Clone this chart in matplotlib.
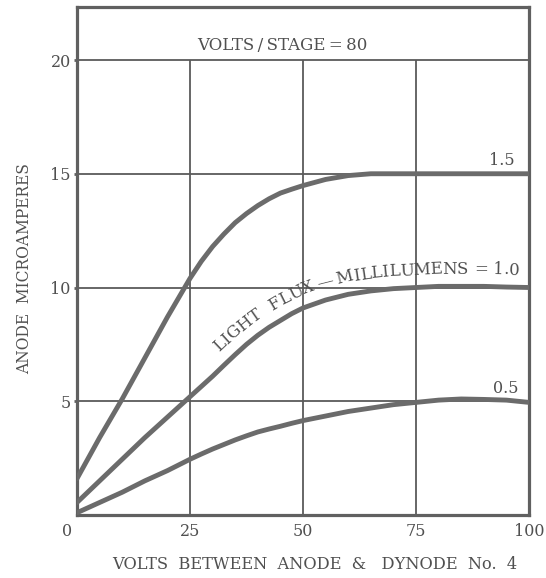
import numpy as np
import matplotlib
matplotlib.use("Agg")
import matplotlib.pyplot as plt
from matplotlib.font_manager import FontProperties
from matplotlib.textpath import text_to_path
from matplotlib.transforms import IdentityTransform, ScaledTranslation

# ---- data -------------------------------------------------------------
volts = [0, 5, 10, 15, 20, 25, 27.5, 30, 32.5, 35, 37.5, 40, 42.5, 45,
         47.5, 50, 55, 60, 65, 70, 75, 80, 85, 90, 95, 100]

current_flux_15 = [1.6, 3.4, 5.1, 6.9, 8.7, 10.4, 11.15, 11.8, 12.35, 12.85,
                   13.25, 13.6, 13.9, 14.15, 14.32, 14.48, 14.75, 14.92,
                   15.0, 15.0, 15.0, 15.0, 15.0, 15.0, 15.0, 15.0]
current_flux_10 = [0.55, 1.5, 2.45, 3.4, 4.3, 5.2, 5.65, 6.1, 6.58, 7.05,
                   7.5, 7.9, 8.25, 8.55, 8.85, 9.1, 9.45, 9.7, 9.85, 9.95,
                   10.0, 10.05, 10.05, 10.05, 10.02, 10.0]
current_flux_05 = [0.1, 0.55, 1.0, 1.5, 1.95, 2.45, 2.68, 2.9, 3.1, 3.3,
                   3.48, 3.65, 3.78, 3.9, 4.03, 4.15, 4.35, 4.55, 4.7, 4.85,
                   4.95, 5.05, 5.1, 5.08, 5.05, 4.95]

x_ticks = [0, 25, 50, 75, 100]
y_ticks = [5, 10, 15, 20]

title_text = "VOLTS\u2009/\u2009STAGE\u2009=\u200980"
flux_label = "LIGHT  FLUX\u2009\u2014\u2009MILLILUMENS = 1.0"
label_15 = "1.5"
label_05 = "0.5"
x_label = "VOLTS  BETWEEN  ANODE  &   DYNODE  No.  4"
y_label = "ANODE  MICROAMPERES"

# ---- style ------------------------------------------------------------
INK = "#505050"
CURVE = "#6b6b6b"
GRID = "#5a5a5a"
SERIF = ["DejaVu Serif"]
plt.rcParams["font.family"] = SERIF
plt.rcParams["text.color"] = INK

DPI = 100
fig = plt.figure(figsize=(5.46, 5.78), dpi=DPI, facecolor="white")
ax = fig.add_axes([77 / 546, 63 / 578, 452 / 546, 508 / 578])
ax.set_xlim(0, 100)
ax.set_ylim(0, 22.33)
ax.set_facecolor("white")

for sp in ax.spines.values():
    sp.set_color("#606060")
    sp.set_linewidth(2.3)

# grid box: vertical lines stop at the 20 line, the band above holds the title
ax.vlines([25, 50, 75], 0, 20, color=GRID, lw=1.3, zorder=1)
ax.hlines([5, 10, 15, 20], 0, 100, color=GRID, lw=1.3, zorder=1)

for ys in (current_flux_15, current_flux_10, current_flux_05):
    ax.plot(volts, ys, color=CURVE, lw=3.5, solid_capstyle="round",
            solid_joinstyle="round", zorder=3)

ax.set_xticks(x_ticks)
ax.set_xticklabels([str(v) for v in x_ticks])
ax.set_yticks(y_ticks)
ax.set_yticklabels([str(v) for v in y_ticks])
ax.tick_params(axis="x", length=0, pad=6, labelsize=11.5, labelcolor=INK)
ax.tick_params(axis="y", length=2.5, width=2, color="#606060", pad=2,
               labelsize=11.5, labelcolor=INK)
zero_lbl = ax.get_xticklabels()[0]
zero_lbl.set_transform(zero_lbl.get_transform()
                       + ScaledTranslation(-7 / 72, 0, fig.dpi_scale_trans))

ax.set_xlabel(x_label, fontsize=11.7, color=INK)
ax.xaxis.set_label_coords(0.525, -0.08)
ax.set_ylabel(y_label, fontsize=11.2, color=INK)
ax.yaxis.set_label_coords(-0.097, 0.485)

ax.text(45.5, 20.62, title_text, ha="center", va="center", fontsize=12,
        color=INK)
ax.text(94.0, 15.6, label_15, ha="center", va="center", fontsize=11.5,
        color=INK)
ax.text(94.9, 5.58, label_05, ha="center", va="center", fontsize=11.5,
        color=INK)

# ---- label that follows the 1.0 curve ------------------------------------
fig.canvas.draw()
pts = ax.transData.transform(np.column_stack([volts, current_flux_10]))
dx = np.gradient(pts[:, 0])
dy = np.gradient(pts[:, 1])
norm = np.hypot(dx, dy)
nx, ny = -dy / norm, dx / norm
offset_px = 12.5
path = pts + offset_px * np.column_stack([nx, ny])
seg = np.hypot(np.diff(path[:, 0]), np.diff(path[:, 1]))
arc = np.concatenate([[0.0], np.cumsum(seg)])

fp = FontProperties(family=SERIF, size=12)
px_per_pt = DPI / 72.0


def text_width(s):
    if not s:
        return 0.0
    w, _, _ = text_to_path.get_text_width_height_descent(s, fp, ismath=False)
    return w * px_per_pt


start_x = 31.5
start_arc = np.interp(ax.transData.transform((start_x, 0))[0], path[:, 0], arc)
for i, ch in enumerate(flux_label):
    if ch in " \u2009":
        continue
    s = start_arc + text_width(flux_label[:i]) + text_width(ch) / 2
    px = np.interp(s, arc, path[:, 0])
    py = np.interp(s, arc, path[:, 1])
    k = np.clip(np.searchsorted(arc, s), 1, len(arc) - 1)
    ang = np.degrees(np.arctan2(path[k, 1] - path[k - 1, 1],
                                path[k, 0] - path[k - 1, 0]))
    fig.text(px, py, ch, transform=IdentityTransform(), fontproperties=fp,
             color=INK, ha="center", va="baseline", rotation=ang,
             rotation_mode="anchor")

fig.savefig("out.png", dpi=DPI, facecolor="white")
